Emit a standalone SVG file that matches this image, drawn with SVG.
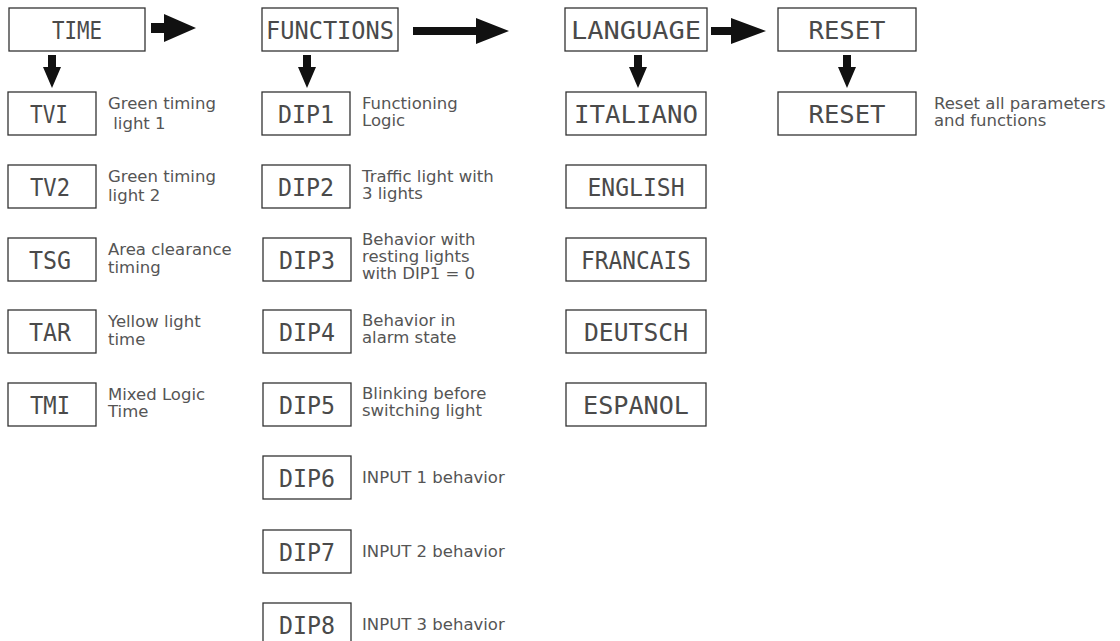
<svg xmlns="http://www.w3.org/2000/svg" width="1120" height="641" viewBox="0 0 1120 641">
<style>
.box{fill:#fff;stroke:#333;stroke-width:1.3}
.lcd{font-family:"DejaVu Sans Mono",monospace;font-size:25px;fill:#4a4a4a;text-anchor:middle}
.desc{font-family:"DejaVu Sans",sans-serif;font-size:16.5px;fill:#555}
.arr{fill:#111}
</style>
<rect width="1120" height="641" fill="#fff"/>
<g id="connectors">
<path class="arr" d="M151 23H164V14L196 28L164 42V33H151Z"/>
<path class="arr" d="M413 27H476V18L509 31L476 44V35H413Z"/>
<path class="arr" d="M711 27H731V18L766 31L731 44V35H711Z"/>
<path class="arr" d="M48 55H56V67H61L52 88L43 67H48Z"/>
<path class="arr" d="M303 55H311V67H316L307 88L298 67H303Z"/>
<path class="arr" d="M634 55H642V67H647L638 88L629 67H634Z"/>
<path class="arr" d="M843 55H851V67H856L847 88L838 67H843Z"/>
</g>
<g id="time"><rect class="box" x="9" y="8" width="136" height="43"/><text class="lcd" x="77" y="39" textLength="50" lengthAdjust="spacingAndGlyphs">TIME</text></g>
<g id="functions"><rect class="box" x="262" y="8" width="136" height="43"/><text class="lcd" x="330" y="39" textLength="128" lengthAdjust="spacingAndGlyphs">FUNCTIONS</text></g>
<g id="language"><rect class="box" x="565" y="8" width="142" height="43"/><text class="lcd" x="636" y="39" textLength="130" lengthAdjust="spacingAndGlyphs">LANGUAGE</text></g>
<g id="reset"><rect class="box" x="778" y="8" width="138" height="43"/><text class="lcd" x="847" y="39" textLength="77" lengthAdjust="spacingAndGlyphs">RESET</text></g>

<g id="tv1"><rect class="box" x="8" y="92" width="88" height="43"/><text class="lcd" x="49" y="123" textLength="38" lengthAdjust="spacingAndGlyphs">TVI</text>
<text class="desc" x="108" y="109">Green timing</text><text class="desc" x="108" y="129" xml:space="preserve"> light 1</text></g>
<g id="tv2"><rect class="box" x="8" y="165" width="88" height="43"/><text class="lcd" x="50" y="196" textLength="40" lengthAdjust="spacingAndGlyphs">TV2</text>
<text class="desc" x="108" y="182">Green timing</text><text class="desc" x="108" y="201">light 2</text></g>
<g id="tsg"><rect class="box" x="8" y="238" width="88" height="43"/><text class="lcd" x="50" y="269" textLength="42" lengthAdjust="spacingAndGlyphs">TSG</text>
<text class="desc" x="108" y="255">Area clearance</text><text class="desc" x="108" y="273">timing</text></g>
<g id="tar"><rect class="box" x="8" y="310" width="88" height="43"/><text class="lcd" x="50" y="341" textLength="42" lengthAdjust="spacingAndGlyphs">TAR</text>
<text class="desc" x="108" y="327">Yellow light</text><text class="desc" x="108" y="345">time</text></g>
<g id="tmi"><rect class="box" x="8" y="383" width="88" height="43"/><text class="lcd" x="50" y="414" textLength="40" lengthAdjust="spacingAndGlyphs">TMI</text>
<text class="desc" x="108" y="400">Mixed Logic</text><text class="desc" x="108" y="417">Time</text></g>

<g id="dip1"><rect class="box" x="262" y="92" width="88" height="43"/><text class="lcd" x="306" y="123" textLength="56" lengthAdjust="spacingAndGlyphs">DIP1</text>
<text class="desc" x="362" y="109">Functioning</text><text class="desc" x="362" y="126">Logic</text></g>
<g id="dip2"><rect class="box" x="262" y="165" width="88" height="43"/><text class="lcd" x="306" y="196" textLength="56" lengthAdjust="spacingAndGlyphs">DIP2</text>
<text class="desc" x="362" y="182">Traffic light with</text><text class="desc" x="362" y="199">3 lights</text></g>
<g id="dip3"><rect class="box" x="263" y="238" width="88" height="43"/><text class="lcd" x="307" y="269" textLength="56" lengthAdjust="spacingAndGlyphs">DIP3</text>
<text class="desc" x="362" y="245">Behavior with</text><text class="desc" x="362" y="262">resting lights</text><text class="desc" x="362" y="279">with DIP1 = 0</text></g>
<g id="dip4"><rect class="box" x="263" y="310" width="88" height="43"/><text class="lcd" x="307" y="341" textLength="56" lengthAdjust="spacingAndGlyphs">DIP4</text>
<text class="desc" x="362" y="326">Behavior in</text><text class="desc" x="362" y="343">alarm state</text></g>
<g id="dip5"><rect class="box" x="263" y="383" width="88" height="43"/><text class="lcd" x="307" y="414" textLength="56" lengthAdjust="spacingAndGlyphs">DIP5</text>
<text class="desc" x="362" y="399">Blinking before</text><text class="desc" x="362" y="416">switching light</text></g>
<g id="dip6"><rect class="box" x="263" y="456" width="88" height="43"/><text class="lcd" x="307" y="487" textLength="56" lengthAdjust="spacingAndGlyphs">DIP6</text>
<text class="desc" x="362" y="483">INPUT 1 behavior</text></g>
<g id="dip7"><rect class="box" x="263" y="530" width="88" height="43"/><text class="lcd" x="307" y="561" textLength="56" lengthAdjust="spacingAndGlyphs">DIP7</text>
<text class="desc" x="362" y="557">INPUT 2 behavior</text></g>
<g id="dip8"><rect class="box" x="263" y="603" width="88" height="43"/><text class="lcd" x="307" y="634" textLength="56" lengthAdjust="spacingAndGlyphs">DIP8</text>
<text class="desc" x="362" y="630">INPUT 3 behavior</text></g>

<g id="italiano"><rect class="box" x="566" y="92" width="140" height="43"/><text class="lcd" x="636" y="123" textLength="124" lengthAdjust="spacingAndGlyphs">ITALIANO</text></g>
<g id="english"><rect class="box" x="566" y="165" width="140" height="43"/><text class="lcd" x="636" y="196" textLength="97" lengthAdjust="spacingAndGlyphs">ENGLISH</text></g>
<g id="francais"><rect class="box" x="566" y="238" width="140" height="43"/><text class="lcd" x="636" y="269" textLength="110" lengthAdjust="spacingAndGlyphs">FRANCAIS</text></g>
<g id="deutsch"><rect class="box" x="566" y="310" width="140" height="43"/><text class="lcd" x="636" y="341" textLength="104" lengthAdjust="spacingAndGlyphs">DEUTSCH</text></g>
<g id="espanol"><rect class="box" x="566" y="383" width="140" height="43"/><text class="lcd" x="636" y="414" textLength="106" lengthAdjust="spacingAndGlyphs">ESPANOL</text></g>

<g id="reset2"><rect class="box" x="778" y="92" width="138" height="43"/><text class="lcd" x="847" y="123" textLength="77" lengthAdjust="spacingAndGlyphs">RESET</text>
<text class="desc" x="934" y="109">Reset all parameters</text><text class="desc" x="934" y="126">and functions</text></g>
</svg>
